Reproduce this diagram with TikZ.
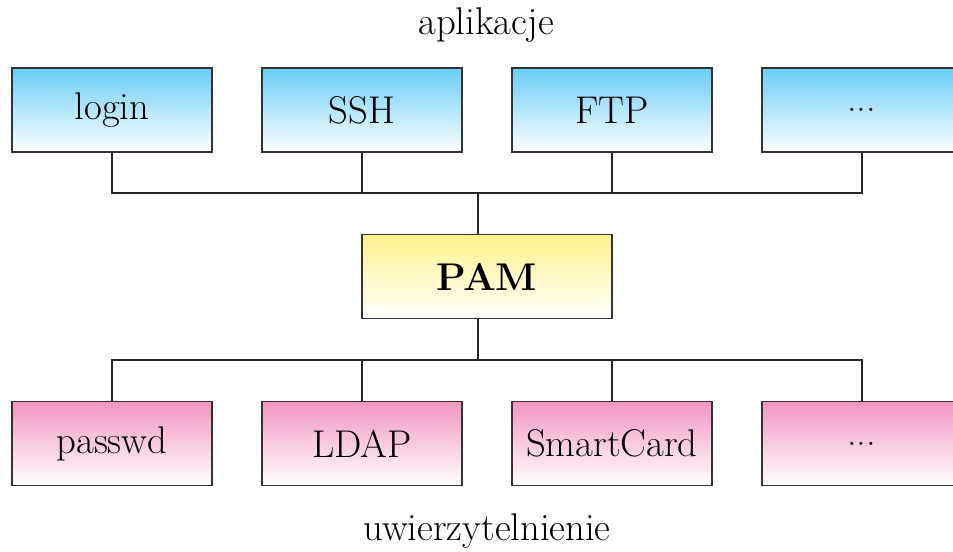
\documentclass[tikz,border=0pt]{standalone}
\usepackage{xcolor}
\usepackage{tikz}
\usetikzlibrary{shapes,arrows,positioning}
\definecolor{appblue}{RGB}{105,205,245}
\definecolor{pamyellow}{RGB}{255,242,140}
\definecolor{authpink}{RGB}{242,150,192}
\tikzset{pam-line/.style={line width=1pt, draw=black!85}}
\tikzset{pam-box/.style={draw=black!80, line width=1.1pt, inner sep=0, minimum width=4cm, minimum height=1.68cm, font=\fontsize{22}{26}\selectfont}}
\tikzset{pam-app/.style={pam-box, top color=appblue, bottom color=white}}
\tikzset{pam-core/.style={pam-box, minimum width=5cm, top color=pamyellow, bottom color=white, font=\fontsize{22}{26}\selectfont\bfseries}}
\tikzset{pam-auth/.style={pam-box, top color=authpink, bottom color=white}}
\begin{document}
\begin{tikzpicture}[]
            \useasboundingbox (0,0) rectangle (19.06,-11.02);

            \node[font=\fontsize{22}{26}\selectfont] (apps) at (9.72,-0.5) {aplikacje};

            \node[pam-app] (login) at (2.24,-2.2) {login};
            \node[pam-app, right=0.96cm of login] (ssh) {SSH};
            \node[pam-app, right=0.96cm of ssh] (ftp) {FTP};
            \node[pam-app, right=0.96cm of ftp] (moreapp) {...};

            \node[pam-core] (pam) at (9.74,-5.53) {PAM};

            \node[pam-auth] (passwd) at (2.24,-8.87) {passwd};
            \node[pam-auth, right=0.96cm of passwd] (ldap) {LDAP};
            \node[pam-auth, right=0.96cm of ldap] (smartcard) {SmartCard};
            \node[pam-auth, right=0.96cm of smartcard] (moreauth) {...};

            \node[font=\fontsize{22}{26}\selectfont] (auth) at (9.74,-10.62) {uwierzytelnienie};

            \coordinate (topbus) at (9.56,-3.86);
            \coordinate (botbus) at (9.56,-7.2);

            \draw[pam-line] (login.south) |- (topbus);
            \draw[pam-line] (ssh.south) |- (topbus);
            \draw[pam-line] (ftp.south) |- (topbus);
            \draw[pam-line] (moreapp.south) |- (topbus);
            \draw[pam-line] (topbus) -- (topbus |- pam.north);

            \draw[pam-line] (botbus |- pam.south) -- (botbus);
            \draw[pam-line] (passwd.north) |- (botbus);
            \draw[pam-line] (ldap.north) |- (botbus);
            \draw[pam-line] (smartcard.north) |- (botbus);
            \draw[pam-line] (moreauth.north) |- (botbus);
        \end{tikzpicture}
\end{document}
